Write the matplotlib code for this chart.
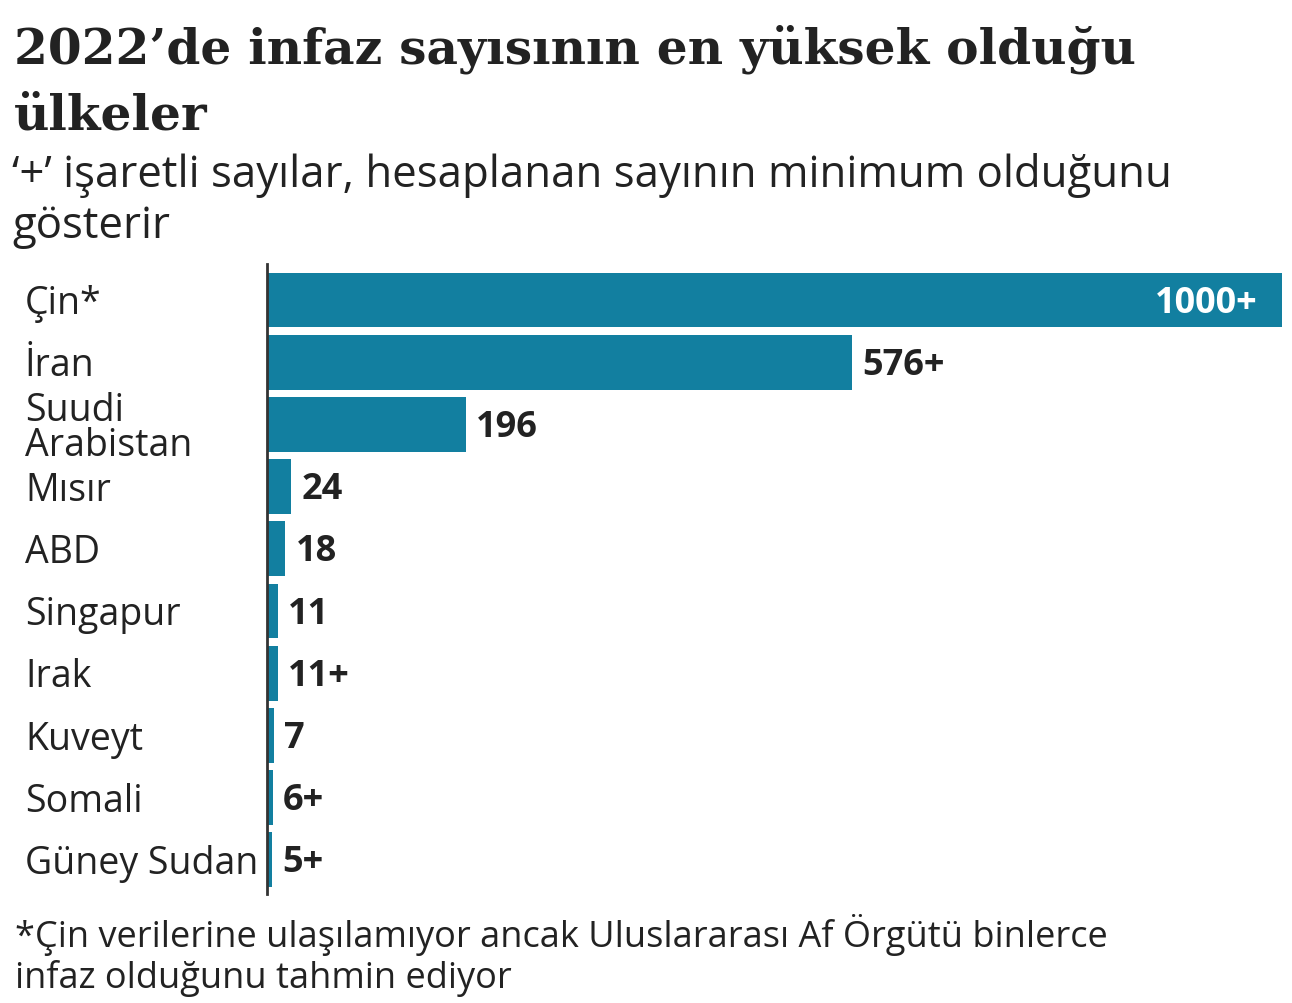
import numpy as np
import matplotlib
matplotlib.use("Agg")
import matplotlib.pyplot as plt
from matplotlib.transforms import blended_transform_factory

# veriler
ulkeler = ["Çin*", "İran", "Suudi\nArabistan", "Mısır", "ABD", "Singapur",
           "Irak", "Kuveyt", "Somali", "Güney Sudan"]
degerler = [1000, 576, 196, 24, 18, 11, 11, 7, 6, 5]
etiketler = ["1000+", "576+", "196", "24", "18", "11", "11+", "7", "6+", "5+"]

baslik = ["2022’de infaz sayısının en yüksek olduğu", "ülkeler"]
altbaslik = ["‘+’ işaretli sayılar, hesaplanan sayının minimum olduğunu", "gösterir"]
notlar = ["*Çin verilerine ulaşılamıyor ancak Uluslararası Af Örgütü binlerce",
          "infaz olduğunu tahmin ediyor"]

W, H = 1292, 1004
renk = "#127fa0"
yazi = "#222222"
sans = ["Open Sans", "DejaVu Sans"]

fig = plt.figure(figsize=(W / 100, H / 100), dpi=100)

def fx(px):
    return px / W

def fy(py):
    return 1 - py / H

# eksen: x 267..1282, y 265..895
ax = fig.add_axes([fx(267), fy(895), fx(1282) - fx(267), fy(265) - fy(895)])
y = np.arange(len(ulkeler))
ax.barh(y, degerler, height=0.88, color=renk)
ax.set_xlim(0, 1000)
ax.set_ylim(9.55, -0.58)
for s in ["top", "right", "bottom"]:
    ax.spines[s].set_visible(False)
ax.spines["left"].set_color("#333333")
ax.spines["left"].set_linewidth(2)
ax.set_xticks([])
ax.set_yticks([])

# değer etiketleri
for i, (v, t) in enumerate(zip(degerler, etiketler)):
    if v > 900:
        ax.text(v - 24, i + 0.04, t, color="white", fontsize=26, fontweight="bold",
                ha="right", va="center", family=sans)
    else:
        ax.text(v + 10, i + 0.04, t, color=yazi, fontsize=26, fontweight="bold",
                ha="left", va="center", family=sans)

# ülke adları
tr = blended_transform_factory(fig.transFigure, ax.transData)
for i, u in enumerate(ulkeler):
    ax.text(fx(25), i + 0.05, u, transform=tr, fontsize=27, color=yazi,
            ha="left", va="center", family=sans, linespacing=0.9)

# başlık, alt başlık, not
for satir, py in zip(baslik, [64, 130]):
    fig.text(fx(14), fy(py), satir, fontsize=35, fontweight="bold",
             family=["DejaVu Serif"], color=yazi, ha="left", va="baseline")
for satir, py in zip(altbaslik, [187, 238]):
    fig.text(fx(12), fy(py), satir, fontsize=31.5, family=sans, color=yazi,
             ha="left", va="baseline")
for satir, py in zip(notlar, [947, 988]):
    fig.text(fx(15), fy(py), satir, fontsize=26, family=sans, color=yazi,
             ha="left", va="baseline")

fig.savefig("out.png", dpi=100, facecolor="white")
